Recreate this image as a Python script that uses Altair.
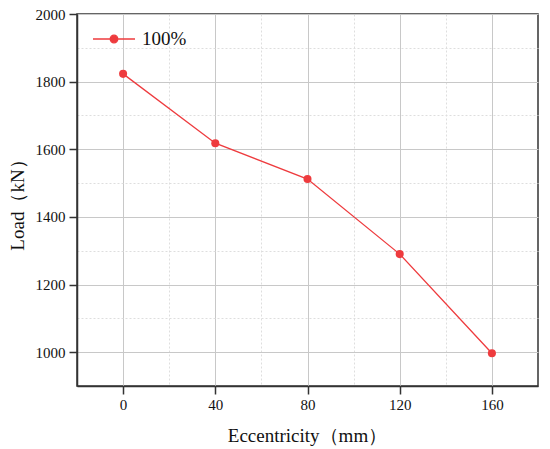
import altair as alt
import pandas as pd

# data
ecc = [0, 40, 80, 120, 160]
load = [1823, 1618, 1512, 1290, 997]
series = ["100%"] * len(ecc)

x_ticks = [0, 20, 40, 60, 80, 100, 120, 140, 160]
y_ticks = [1000, 1100, 1200, 1300, 1400, 1500, 1600, 1700, 1800, 1900, 2000]

df = pd.DataFrame({"Eccentricity": ecc, "Load": load, "Series": series})

red = "#EE3B3E"
font = "Liberation Serif"
dark = "#333333"


def grid_props(step):
    test = f"datum.value % {step} === 0"
    return dict(
        gridDash={"condition": {"test": test, "value": []}, "value": [2, 2]},
        gridColor={"condition": {"test": test, "value": "#c8c8c8"}, "value": "#dedede"},
        tickOpacity={"condition": {"test": test, "value": 1}, "value": 0},
        labelExpr=f"{test} ? datum.label : ''",
    )


x_axis = alt.Axis(
    values=x_ticks,
    format="d",
    title="Eccentricity（mm）",
    titleX=230,
    titleY=55,
    titleBaseline="alphabetic",
    labelPadding=3,
    **grid_props(40),
)
y_axis = alt.Axis(
    values=y_ticks,
    format="d",
    title="Load（kN）",
    titleX=-54,
    titleY=186,
    titleBaseline="alphabetic",
    labelPadding=4,
    **grid_props(200),
)

legend = alt.Legend(
    title=None,
    orient="none",
    legendX=15,
    legendY=3,
    symbolType="M-1,0L1,0M-0.18,0A0.18,0.18,0,1,1,0.18,0A0.18,0.18,0,1,1,-0.18,0Z",
    symbolSize=1764,
    symbolStrokeWidth=1.3,
    symbolFillColor=red,
    symbolStrokeColor=red,
    labelFont=font,
    labelFontSize=19,
    labelColor="#111111",
    labelOffset=6,
    padding=0,
)

chart = (
    alt.Chart(df)
    .mark_line(strokeWidth=1.3, point=alt.OverlayMarkDef(filled=True, size=65, opacity=1))
    .encode(
        x=alt.X("Eccentricity:Q", scale=alt.Scale(domain=[-20, 180], nice=False, zero=False), axis=x_axis),
        y=alt.Y("Load:Q", scale=alt.Scale(domain=[900, 2000], nice=False, zero=False), axis=y_axis),
        color=alt.Color("Series:N", scale=alt.Scale(range=[red]), legend=legend),
    )
    .properties(
        width=461,
        height=372,
        autosize=alt.AutoSizeParams(type="none"),
        padding={"left": 69, "top": 6, "right": 4, "bottom": 62},
        background="white",
    )
    .configure_view(stroke=dark, strokeWidth=1.5)
    .configure_axis(
        domainColor=dark,
        domainWidth=1.5,
        tickColor=dark,
        tickWidth=1.5,
        tickSize=8,
        gridWidth=1,
        labelFont=font,
        labelFontSize=15,
        labelColor="#111111",
        titleFont=font,
        titleFontSize=19,
        titleFontWeight="normal",
        titleColor="#111111",
    )
)

chart.save("out.html", embed_options={"renderer": "svg", "actions": False})
